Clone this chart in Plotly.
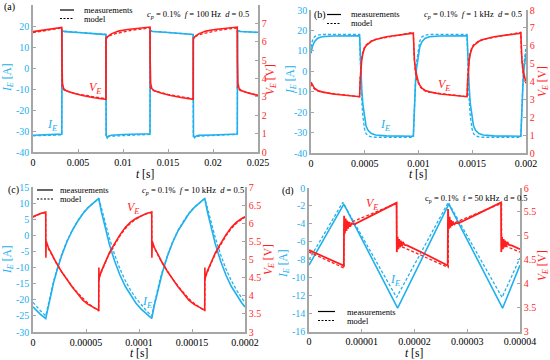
import plotly.graph_objects as go

# ---------------- data ----------------
# panel (a): f = 100 Hz, time in ms
ta_I = [0, 1, 2, 3.2, 3.23, 3.3, 3.5, 5, 6.5, 8.1, 8.13, 8.25, 8.45, 8.7, 10, 11.5, 13.0,
        13.03, 13.1, 13.3, 15, 16.5, 17.8, 17.83, 17.95, 18.15, 18.4, 20, 21.5, 22.7,
        22.73, 22.8, 23.0, 25]
Ia_meas = [-32.0, -31.9, -31.8, -31.5, 17.8, 17.6, 17.3, 16.9, 16.4, 15.9, -32.0, -33.3, -32.3,
           -32.0, -31.7, -31.5, -31.3, 18.0, 17.8, 17.4, 16.9, 16.5, 16.0, -32.0, -33.2, -32.4,
           -32.1, -31.9, -31.6, -31.4, 18.0, 17.7, 17.4, 17.0]
ta_Im = [0, 3.2, 3.21, 8.1, 8.11, 13.0, 13.01, 17.8, 17.81, 22.7, 22.71, 25]
Ia_model = [-32.3, -31.8, 17.6, 16.0, -32.6, -31.6, 17.6, 16.0, -32.6, -31.6, 17.6, 16.8]
ta_V = [0, 1, 2, 3.2, 3.22, 3.27, 3.4, 3.7, 4.5, 5.5, 6.8, 8.1, 8.12, 8.3, 8.7, 9.5, 10.5, 11.8,
        13.0, 13.02, 13.07, 13.2, 13.5, 14.3, 15.3, 16.6, 17.8, 17.82, 18.0, 18.4, 19.2, 20.2,
        21.5, 22.7, 22.72, 22.77, 22.9, 23.2, 24.0, 25]
Va_meas = [6.55, 6.62, 6.7, 6.78, 5.0, 3.75, 3.45, 3.33, 3.2, 3.07, 2.95, 2.87, 6.15, 6.28, 6.43,
           6.58, 6.67, 6.74, 6.8, 5.0, 3.75, 3.45, 3.33, 3.2, 3.07, 2.95, 2.87, 6.15, 6.28, 6.43,
           6.58, 6.67, 6.74, 6.8, 5.0, 3.75, 3.45, 3.33, 3.2, 3.08]
ta_Vm = [0, 3.2, 3.21, 3.5, 5, 8.1, 8.11, 9, 11, 13.0, 13.01, 13.3, 15, 17.8, 17.81, 18.7, 20.7,
         22.7, 22.71, 23.0, 25]
Va_model = [6.5, 6.75, 3.5, 3.35, 3.15, 2.9, 6.25, 6.42, 6.63, 6.75, 3.5, 3.35, 3.13, 2.9, 6.25,
            6.42, 6.63, 6.75, 3.5, 3.35, 3.08]

# panel (b): f = 1 kHz, time in us
tb_I = [0, 12, 32, 62, 102, 202, 452, 457, 462, 472, 482, 497, 512, 532, 562, 602, 702, 952,
        957, 962, 972, 982, 997, 1012, 1032, 1062, 1102, 1202, 1452, 1457, 1462, 1472, 1482,
        1497, 1512, 1532, 1562, 1602, 1702, 1952, 1957, 1962, 1972, 1982, 1997, 2000]
Ib_meas = [8.8, 12.0, 14.5, 16.2, 16.9, 17.3, 17.4, 10.0, 3.0, -8.5, -16.0, -23.0, -26.8, -29.0,
           -30.5, -31.2, -31.6, -31.8, -24.0, -17.0, -6.0, 1.5, 8.0, 12.0, 14.5, 16.2, 16.9,
           17.3, 17.4, 10.0, 3.0, -8.5, -16.0, -23.0, -26.8, -29.0, -30.5, -31.2, -31.6, -31.8,
           -24.0, -17.0, -6.0, 1.5, 8.0, 8.8]
tb_Im = [0, 12, 32, 62, 102, 452, 457, 462, 472, 482, 497, 512, 532, 562, 602, 952, 957, 962,
         972, 982, 997, 1012, 1032, 1062, 1102, 1452, 1457, 1462, 1472, 1482, 1497, 1512, 1532,
         1562, 1602, 1952, 1957, 1962, 1972, 1982, 1997, 2000]
Ib_model = [11.8, 14.8, 16.9, 17.7, 18.0, 18.0, 7.5, -1.5, -14.5, -22.0, -28.0, -30.5, -31.6,
            -32.1, -32.3, -32.3, -23.0, -15.0, -3.5, 4.5, 11.0, 14.8, 16.9, 17.7, 18.0, 18.0,
            7.5, -1.5, -14.5, -22.0, -28.0, -30.5, -31.6, -32.1, -32.3, -32.3, -23.0, -15.0,
            -3.5, 4.5, 11.0, 11.8]
tb_V = tb_I
Vb_meas = [3.97, 3.8, 3.62, 3.5, 3.42, 3.3, 3.15, 4.0, 4.6, 5.2, 5.55, 5.85, 6.0, 6.12, 6.25,
           6.35, 6.5, 6.7, 5.8, 5.2, 4.65, 4.3, 4.0, 3.8, 3.62, 3.5, 3.42, 3.3, 3.15, 4.0, 4.6,
           5.2, 5.55, 5.85, 6.0, 6.12, 6.25, 6.35, 6.5, 6.7, 5.8, 5.2, 4.65, 4.3, 4.0, 3.97]
tb_Vm = tb_Im
Vb_model = [3.88, 3.72, 3.58, 3.47, 3.4, 3.15, 4.2, 4.8, 5.35, 5.65, 5.92, 6.05, 6.15, 6.27,
            6.36, 6.75, 5.6, 5.0, 4.45, 4.15, 3.9, 3.72, 3.58, 3.47, 3.4, 3.15, 4.2, 4.8, 5.35,
            5.65, 5.92, 6.05, 6.15, 6.27, 6.36, 6.75, 5.6, 5.0, 4.45, 4.15, 3.9, 3.88]

# panel (c): f = 10 kHz, time in us
tc_I = [0, 2, 7, 12, 14.5, 17, 19.5, 22, 27, 32, 37, 42, 47, 52, 57, 62, 64.5, 67, 69.5, 72, 77,
        82, 87, 92, 97, 102, 107, 112, 114.5, 117, 119.5, 122, 127, 132, 137, 142, 147, 152,
        157, 162, 164.5, 167, 169.5, 172, 177, 182, 187, 192, 197, 200]
Ic_meas = [-22.2, -22.9, -24.5, -25.8, -21.7, -18.0, -14.6, -11.6, -6.3, -2.0, 1.5, 4.3, 6.7,
           8.6, 10.2, 11.5, 7.4, 3.7, 0.3, -2.7, -8.0, -12.3, -15.8, -18.6, -21.0, -22.9, -24.5,
           -25.8, -21.7, -18.0, -14.6, -11.6, -6.3, -2.0, 1.5, 4.3, 6.7, 8.6, 10.2, 11.5, 7.4,
           3.7, 0.3, -2.7, -8.0, -12.3, -15.8, -18.6, -21.0, -22.2]
Ic_model = [-20.8, -21.6, -23.4, -25.0, -21.0, -17.4, -14.1, -11.2, -6.0, -1.8, 1.6, 4.4, 6.8,
            8.7, 10.2, 11.4, 8.6, 5.2, 2.1, -0.8, -6.0, -10.4, -14.0, -17.0, -19.5, -21.6,
            -23.4, -25.0, -21.0, -17.4, -14.1, -11.2, -6.0, -1.8, 1.6, 4.4, 6.8, 8.7, 10.2, 11.4,
            8.6, 5.2, 2.1, -0.8, -6.0, -10.4, -14.0, -17.0, -19.5, -20.8]
tc_V = [0, 2, 7, 12, 12.15, 12.3, 12.5, 14.5, 17, 19.5, 22, 27, 32, 37, 42, 47, 52, 57, 62,
        62.15, 62.3, 62.5, 64.5, 67, 69.5, 72, 77, 82, 87, 92, 97, 102, 107, 112, 112.15, 112.3,
        112.5, 114.5, 117, 119.5, 122, 127, 132, 137, 142, 147, 152, 157, 162, 162.15, 162.3,
        162.5, 164.5, 167, 169.5, 172, 177, 182, 187, 192, 197, 200]
Vc_meas = [6.18, 6.21, 6.27, 6.31,
           5.05, 5.62, 5.50, 5.33, 5.18, 5.04, 4.91, 4.66, 4.44, 4.24, 4.06, 3.88, 3.76, 3.67, 3.60,
           4.78, 4.42, 4.50, 4.68, 4.85, 5.02, 5.18, 5.44, 5.68, 5.88, 6.03, 6.13, 6.21, 6.27, 6.31,
           5.05, 5.62, 5.50, 5.33, 5.18, 5.04, 4.91, 4.66, 4.44, 4.24, 4.06, 3.88, 3.76, 3.67, 3.60,
           4.78, 4.42, 4.50, 4.68, 4.85, 5.02, 5.18, 5.44, 5.68, 5.88, 6.03, 6.13, 6.18]
tc_Vm = [0, 2, 7, 12, 12.1, 14.5, 17, 19.5, 22, 27, 32, 37, 42, 47, 52, 57, 62, 62.1, 64.5, 67,
         69.5, 72, 77, 82, 87, 92, 97, 102, 107, 112, 112.1, 114.5, 117, 119.5, 122, 127, 132,
         137, 142, 147, 152, 157, 162, 162.1, 164.5, 167, 169.5, 172, 177, 182, 187, 192, 197, 200]
Vc_model = [6.17, 6.2, 6.26, 6.3, 5.45, 5.30, 5.16, 5.03, 4.9, 4.66, 4.45, 4.26, 4.08, 3.92, 3.79,
            3.68, 3.58, 4.48, 4.66, 4.84, 5.0, 5.15, 5.42, 5.65, 5.85, 6.0, 6.11, 6.2, 6.26, 6.3,
            5.45, 5.30, 5.16, 5.03, 4.9, 4.66, 4.45, 4.26, 4.08, 3.92, 3.79, 3.68, 3.58, 4.48,
            4.66, 4.84, 5.0, 5.15, 5.42, 5.65, 5.85, 6.0, 6.11, 6.17]

# panel (d): f = 50 kHz, time in us
td_I = [0, 6.6, 16.8, 26.5, 36.7, 40]
Id_meas = [-8.6, -1.8, -13.4, -1.8, -13.4, -8.6]
td_Im = [0, 6.4, 16.6, 26.4, 36.6, 40]
Id_model = [-8.0, -1.6, -12.2, -1.6, -12.2, -7.8]
td_V = [0, 3, 6.5, 6.6, 6.65, 6.8, 6.95, 7.1, 7.25, 7.4, 7.6, 7.8, 8.1, 8.6, 12, 16.6, 16.65,
        16.8, 16.95, 17.1, 17.25, 17.4, 17.6, 17.8, 18.1, 18.6, 22, 26.3, 26.35, 26.5, 26.65,
        26.8, 26.95, 27.1, 27.3, 27.5, 27.8, 28.3, 32, 36.4, 36.45, 36.6, 36.75, 36.9, 37.05,
        37.2, 37.4, 37.6, 37.9, 38.4, 40]
Vd_meas = [4.70, 4.55, 4.38, 4.35, 5.42, 5.05, 5.36, 5.10, 5.32, 5.15, 5.29, 5.19, 5.26, 5.24,
           5.43, 5.69, 4.66, 4.98, 4.72, 4.93, 4.76, 4.90, 4.78, 4.87, 4.81, 4.80, 4.62, 4.38,
           5.56, 5.14, 5.40, 5.17, 5.33, 5.21, 5.30, 5.23, 5.27, 5.26, 5.46, 5.70, 4.66, 4.98,
           4.72, 4.93, 4.76, 4.90, 4.78, 4.87, 4.81, 4.80, 4.72]
td_Vm = [0, 6.6, 6.61, 16.6, 16.61, 26.4, 26.41, 36.5, 36.51, 40]
Vd_model = [4.66, 4.33, 5.22, 5.68, 4.82, 4.34, 5.22, 5.68, 4.82, 4.66]

# tick values / labels
xa_ticks = [0, 0.005, 0.01, 0.015, 0.02, 0.025]
xa_text = ["0", "0.005", "0.01", "0.015", "0.02", "0.025"]
xb_ticks = [0, 0.0005, 0.001, 0.0015, 0.002]
xb_text = ["0", "0.0005", "0.001", "0.0015", "0.002"]
xc_ticks = [0, 0.00005, 0.0001, 0.00015, 0.0002]
xc_text = ["0", "0.00005", "0.0001", "0.00015", "0.0002"]
xd_ticks = [0, 0.00001, 0.00002, 0.00003, 0.00004]
xd_text = ["0", "0.00001", "0.00002", "0.00003", "0.00004"]
yI_ab_ticks = [-40, -30, -20, -10, 0, 10, 20, 30]
yI_ab_text = ["-40", "-30", "-20", "-10", "0", "10", "20", "30"]
yV_ab_ticks = [0, 1, 2, 3, 4, 5, 6, 7, 8]
yV_ab_text = ["0", "1", "2", "3", "4", "5", "6", "7", "8"]
yI_c_ticks = [-30, -25, -20, -15, -10, -5, 0, 5, 10, 15]
yI_c_text = ["-30", "-25", "-20", "-15", "-10", "-5", "0", "5", "10", "15"]
yV_c_ticks = [3, 3.5, 4, 4.5, 5, 5.5, 6, 6.5, 7]
yV_c_text = ["3", "3.5", "4", "4.5", "5", "5.5", "6", "6.5", "7"]
yI_d_ticks = [-16, -14, -12, -10, -8, -6, -4, -2, 0]
yI_d_text = ["-16", "-14", "-12", "-10", "-8", "-6", "-4", "-2", "0"]
yV_d_ticks = [3, 3.5, 4, 4.5, 5, 5.5, 6]
yV_d_text = ["3", "3.5", "4", "4.5", "5", "5.5", "6"]

# ---------------- styling ----------------
W, H = 550, 360
BLUE = "#22b0ee"
RED = "#ff1f1f"
GRAY = "#a6a6a6"
FONT = "Liberation Serif, Times New Roman, serif"


def px(x):
    return x / W


def py(y):
    return 1 - y / H


fig = go.Figure()


def add(t, y, scale, xa, ya, color, dash=None, width=1.6):
    fig.add_trace(go.Scatter(
        x=[v * scale for v in t], y=y, xaxis=xa, yaxis=ya, mode="lines",
        line=dict(color=color, width=width, dash=dash) if dash else dict(color=color, width=width),
        showlegend=False, hoverinfo="skip"))


DASH = "3px,2px"
# (a)
add(ta_I, Ia_meas, 1e-3, "x", "y", BLUE)
add(ta_Im, Ia_model, 1e-3, "x", "y", BLUE, DASH, 1.3)
add(ta_V, Va_meas, 1e-3, "x", "y5", RED)
add(ta_Vm, Va_model, 1e-3, "x", "y5", RED, DASH, 1.3)
# (b)
add(tb_I, Ib_meas, 1e-6, "x2", "y2", BLUE)
add(tb_Im, Ib_model, 1e-6, "x2", "y2", BLUE, DASH, 1.3)
add(tb_V, Vb_meas, 1e-6, "x2", "y6", RED)
add(tb_Vm, Vb_model, 1e-6, "x2", "y6", RED, DASH, 1.3)
# (c)
add(tc_I, Ic_meas, 1e-6, "x3", "y3", BLUE)
add(tc_I, Ic_model, 1e-6, "x3", "y3", BLUE, DASH, 1.3)
add(tc_V, Vc_meas, 1e-6, "x3", "y7", RED)
add(tc_Vm, Vc_model, 1e-6, "x3", "y7", RED, DASH, 1.3)
# (d)
add(td_I, Id_meas, 1e-6, "x4", "y4", BLUE)
add(td_Im, Id_model, 1e-6, "x4", "y4", BLUE, DASH, 1.3)
add(td_V, Vd_meas, 1e-6, "x4", "y8", RED, None, 1.8)
add(td_Vm, Vd_model, 1e-6, "x4", "y8", RED, DASH, 1.3)

# panel geometry in pixels: (left, right, top, bottom)
P = {
    "a": (33, 258, 5, 152),
    "b": (311, 526, 10, 153),
    "c": (33, 245, 187, 332),
    "d": (309, 520, 188, 331.5),
}

tickfont = dict(family=FONT, size=10, color="black")


def xaxis(p, rng, tv, tt, anchor):
    l, r, t, b = P[p]
    return dict(domain=[px(l), px(r)], range=rng, anchor=anchor, tickvals=tv, ticktext=tt,
                showline=True, linecolor=GRAY, linewidth=1.5, ticks="inside", ticklen=3,
                tickcolor=GRAY, showgrid=False, zeroline=False, tickfont=tickfont,
                automargin=False)


def yaxis(p, rng, tv, tt, anchor, color, side="left", overlay=None):
    l, r, t, b = P[p]
    d = dict(range=rng, anchor=anchor, tickvals=tv, ticktext=tt, side=side,
             showline=True, linecolor=GRAY, linewidth=1.5, ticks="inside", ticklen=3,
             tickcolor=GRAY, showgrid=False, zeroline=False,
             tickfont=dict(family=FONT, size=10, color=color), automargin=False)
    if overlay:
        d["overlaying"] = overlay
    else:
        d["domain"] = [py(b), py(t)]
    return d


fig.update_layout(
    width=W, height=H, margin=dict(l=0, r=0, t=0, b=0),
    paper_bgcolor="white", plot_bgcolor="white", showlegend=False,
    font=dict(family=FONT, size=10, color="black"),
    xaxis=xaxis("a", [0, 0.025], xa_ticks, xa_text, "y"),
    xaxis2=xaxis("b", [0, 0.002], xb_ticks, xb_text, "y2"),
    xaxis3=xaxis("c", [0, 0.0002], xc_ticks, xc_text, "y3"),
    xaxis4=xaxis("d", [0, 0.00004], xd_ticks, xd_text, "y4"),
    yaxis=yaxis("a", [-40, 30], yI_ab_ticks, yI_ab_text, "x", BLUE),
    yaxis2=yaxis("b", [-40, 30], yI_ab_ticks, yI_ab_text, "x2", BLUE),
    yaxis3=yaxis("c", [-30, 15], yI_c_ticks, yI_c_text, "x3", BLUE),
    yaxis4=yaxis("d", [-16, 0], yI_d_ticks, yI_d_text, "x4", BLUE),
    yaxis5=yaxis("a", [0, 8], yV_ab_ticks, yV_ab_text, "x", RED, "right", "y"),
    yaxis6=yaxis("b", [0, 8], yV_ab_ticks, yV_ab_text, "x2", RED, "right", "y2"),
    yaxis7=yaxis("c", [3, 7], yV_c_ticks, yV_c_text, "x3", RED, "right", "y3"),
    yaxis8=yaxis("d", [3, 6], yV_d_ticks, yV_d_text, "x4", RED, "right", "y4"),
)

ann = []
shapes = []
NB = "\u00a0"


def text(x, y, s, size=10, color="black", xanchor="left", angle=0):
    ann.append(dict(x=px(x), y=py(y), xref="paper", yref="paper", text=s, showarrow=False,
                    xanchor=xanchor, yanchor="middle", textangle=angle,
                    font=dict(family=FONT, size=size, color=color)))


# panel labels
text(2, 7, "(a)", 10)
text(312, 15, "(b)", 10)
text(6, 190, "(c)", 10)
text(280, 191, "(d)", 10)

# axis titles
IT = "<i>I<sub>E</sub></i> [A]"
VT = "<i>V<sub>E</sub></i> [V]"
XT = "<i>t</i> [s]"
for (lx, ly, rx, ry, xx, xy) in [(8, 78, 271, 80, 145, 173.5), (291, 80, 543, 82, 418, 173.5),
                                 (8, 260, 269, 260, 139, 353), (284, 264, 543, 266, 414, 353)]:
    text(lx, ly, IT, 11.5, BLUE, "center", -90)
    text(rx, ry, VT, 11.5, RED, "center", -90)
    text(xx, xy, XT, 11.5, "black", "center")

# in-plot curve labels
EI = "<i>I<sub>E</sub></i>"
EV = "<i>V<sub>E</sub></i>"
text(52, 125, EI, 12, BLUE, "center")
text(95, 88, EV, 12, RED, "center")
text(385, 125, EI, 12, BLUE, "center")
text(444, 85, EV, 12, RED, "center")
text(147, 302, EI, 12, BLUE, "center")
text(133, 208, EV, 12, RED, "center")
text(395, 280, EI, 12, BLUE, "center")
text(372, 204, EV, 12, RED, "center")

# legends (line keys + labels) and parameter text
for (x0, x1, y1, y2, xt) in [(60, 74, 10, 18.5, 82), (327, 341, 14.5, 23.5, 349),
                             (37, 53, 190, 199, 58), (318, 335, 311.5, 320.5, 345)]:
    shapes.append(dict(type="line", xref="paper", yref="paper", x0=px(x0), x1=px(x1),
                       y0=py(y1), y1=py(y1), line=dict(color="black", width=1.2)))
    shapes.append(dict(type="line", xref="paper", yref="paper", x0=px(x0), x1=px(x1),
                       y0=py(y2), y1=py(y2), line=dict(color="black", width=1.2, dash="2px,1.5px")))
    text(xt, y1, "measurements", 8.5)
    text(xt, y2, "model", 8.5)

SP = NB * 2
PI = "<i>c<sub>p</sub></i>" + NB + "=" + NB + "0.1%" + SP
text(145, 15, PI + "<i>f</i>" + NB + "=" + NB + "100" + NB + "Hz" + SP + "<i>d</i>" + NB + "=" + NB + "0.5", 8.5)
text(422, 15, PI + "<i>f</i>" + NB + "=" + NB + "1" + NB + "kHz" + SP + "<i>d</i>" + NB + "=" + NB + "0.5", 8.5)
text(140, 190, PI + "<i>f</i>" + NB + "=" + NB + "10" + NB + "kHz" + SP + "<i>d</i>" + NB + "=" + NB + "0.5", 8.5)
text(423, 198, "c<sub>p</sub>" + NB + "=" + NB + "0.1%" + SP + "f" + NB + "=" + NB + "50" + NB + "kHz" + SP + "d" + NB + "=" + NB + "0.5", 8.5)

fig.update_layout(annotations=ann, shapes=shapes)
fig.write_html("out.html", config={"displayModeBar": False},
               post_script="document.body.style.margin='0';document.body.style.padding='0';")
